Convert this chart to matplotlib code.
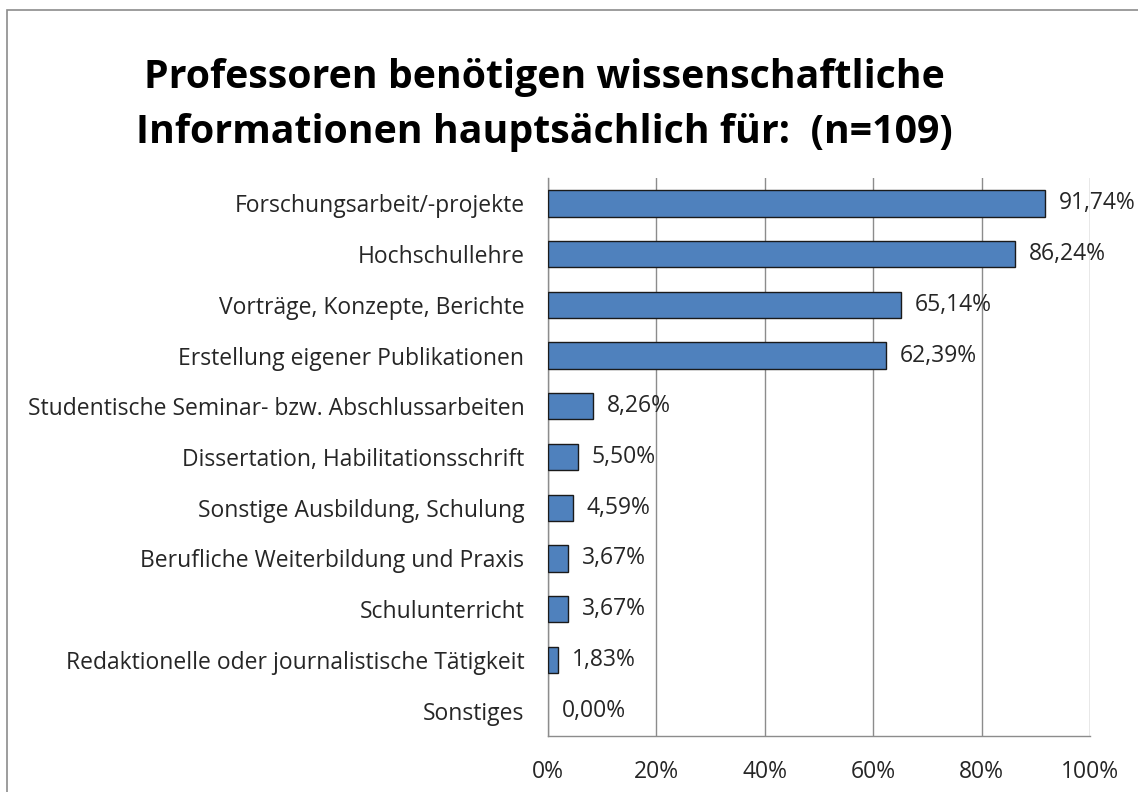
import matplotlib
matplotlib.use("Agg")
import matplotlib.pyplot as plt
from matplotlib.patches import Rectangle

categories = [
    "Forschungsarbeit/-projekte",
    "Hochschullehre",
    "Vorträge, Konzepte, Berichte",
    "Erstellung eigener Publikationen",
    "Studentische Seminar- bzw. Abschlussarbeiten",
    "Dissertation, Habilitationsschrift",
    "Sonstige Ausbildung, Schulung",
    "Berufliche Weiterbildung und Praxis",
    "Schulunterricht",
    "Redaktionelle oder journalistische Tätigkeit",
    "Sonstiges",
]
values = [91.74, 86.24, 65.14, 62.39, 8.26, 5.50, 4.59, 3.67, 3.67, 1.83, 0.00]
xticks = [0, 20, 40, 60, 80, 100]
xticklabels = ["0%", "20%", "40%", "60%", "80%", "100%"]
title = "Professoren benötigen wissenschaftliche\nInformationen hauptsächlich für:  (n=109)"

plt.rcParams['font.family'] = ['Open Sans', 'DejaVu Sans']

W, H = 1138, 792
fig = plt.figure(figsize=(W / 100, H / 100), dpi=100)
fig.patch.set_facecolor("white")

# outer chart border
fig.patches.append(Rectangle((7 / W, -0.1), 1.2, 1 - 10 / H + 0.1, transform=fig.transFigure,
                             fill=False, edgecolor="#8c8c8c", linewidth=1.2))

ax = fig.add_axes([548 / W, 1 - 736 / H, (1090 - 548) / W, (736 - 178) / H])

n = len(categories)
ypos = list(range(n))
lws = [1.0 if v > 0 else 0.0 for v in values]
ax.barh(ypos, values, height=0.52, color="#4F81BD", edgecolor="#1a1a1a", linewidth=lws, zorder=3)
ax.set_ylim(n - 0.5, -0.5)
ax.set_xlim(0, 100)

lab_fs = 16.5
for y, v in zip(ypos, values):
    ax.annotate(f"{v:.2f}%".replace(".", ","), xy=(v, y), xytext=(10, 0),
                textcoords="offset points", ha="left", va="center",
                fontsize=lab_fs, color="#262626", zorder=4)

ax.set_yticks(ypos)
ax.set_yticklabels(categories, fontsize=lab_fs, color="#262626")
ax.set_xticks(xticks)
ax.set_xticklabels(xticklabels, fontsize=lab_fs, color="#262626")
ax.tick_params(axis="both", length=0)
ax.tick_params(axis="y", pad=17)
ax.tick_params(axis="x", pad=17)

ax.grid(axis="x", color="#8c8c8c", linewidth=1.0, zorder=0)
for s in ["top", "right"]:
    ax.spines[s].set_visible(False)
for s in ["left", "bottom"]:
    ax.spines[s].set_color("#8c8c8c")
    ax.spines[s].set_linewidth(1.0)

fig.text(544 / W, 1 - 105 / H, title, ha="center", va="center", fontsize=28.3,
         fontweight="bold", color="black", linespacing=1.55)

fig.savefig("out.png", dpi=100, facecolor="white")
